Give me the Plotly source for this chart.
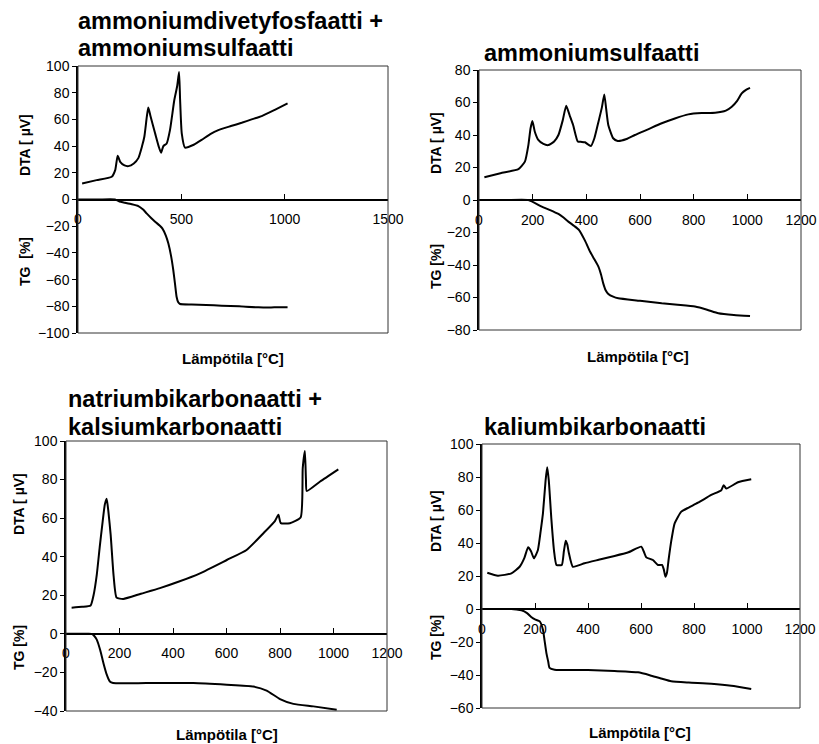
import plotly.graph_objects as go

W, H = 819, 744

# ---------------- data ----------------
titles = [
    ["ammoniumdivetyfosfaatti +", "ammoniumsulfaatti"],
    ["ammoniumsulfaatti"],
    ["natriumbikarbonaatti +", "kalsiumkarbonaatti"],
    ["kaliumbikarbonaatti"],
]
dta_title = "DTA [ \u00b5V]"
tg_titles = ["TG  [%]", "TG [%]", "TG [%]", "TG [%]"]
x_title = "Lämpötila [°C]"

# panel 1: ammoniumdivetyfosfaatti + ammoniumsulfaatti
t1_dta = [20, 90, 163, 180, 192, 205, 225, 244, 270, 292, 310, 321, 333, 340, 350, 373, 390, 402, 413, 429, 445, 466, 480, 489, 494, 502, 518, 560, 598, 640, 679, 740, 792, 840, 889, 950, 1014]
v1_dta = [12, 14.5, 17, 22, 32.8, 28, 25.5, 25, 27, 31, 40, 47, 62, 69, 63, 49.6, 40, 35, 40, 42, 52, 74.5, 85, 95.5, 75, 49.6, 38.8, 41, 44.6, 49, 52, 55, 57.5, 60, 62.5, 67, 72]
t1_tg = [0, 100, 179, 200, 227, 260, 292, 315, 332, 355, 373, 395, 408, 425, 437, 450, 461, 470, 477, 485, 494, 550, 620, 695, 780, 873, 950, 1014]
v1_tg = [0, 0, 0, -1.5, -2.4, -3.5, -4.9, -7.5, -10.4, -14, -16.6, -19.5, -21.6, -27, -32.8, -42, -52.8, -64, -72.8, -77, -78.3, -78.6, -79, -79.5, -80, -80.8, -80.8, -80.8]
x1_ticks = [0, 500, 1000, 1500]

# panel 2: ammoniumsulfaatti
t2_dta = [20, 80, 147, 171, 184, 192, 199, 208, 221, 240, 258, 280, 296, 312, 325, 338, 351, 368, 380, 395, 417, 430, 445, 458, 467, 474, 482, 500, 517, 550, 581, 630, 681, 730, 780, 830, 880, 920, 942, 962, 979, 995, 1010]
v2_dta = [14, 16.5, 19, 23.6, 33.8, 44, 48.6, 42, 37, 34.5, 33.8, 36, 40, 49, 58, 52, 46, 36, 35.8, 35.5, 33.2, 38, 48, 57, 65, 56, 46, 38, 36.3, 37.5, 40, 43.5, 47.2, 50.2, 52.7, 53.5, 53.7, 55, 57.4, 61, 65.6, 67.8, 69]
t2_tg = [0, 100, 184, 234, 265, 296, 315, 333, 355, 373, 395, 414, 430, 445, 455, 463, 472, 482, 500, 519, 600, 681, 740, 805, 850, 892, 950, 1010]
v2_tg = [0, 0, 0, -4.1, -6.2, -8.6, -10.8, -13.3, -16, -18.5, -25, -31.8, -36.5, -41, -46, -51.3, -55.5, -57.8, -59.5, -60.5, -62, -63.6, -64.5, -65.6, -67.5, -69.7, -70.8, -71.4]
x2_ticks = [0, 200, 400, 600, 800, 1000, 1200]

# panel 3: natriumbikarbonaatti + kalsiumkarbonaatti
t3_dta = [21, 60, 92, 103, 115, 126, 137, 145, 152, 158, 167, 178, 189, 214, 280, 351, 420, 501, 601, 675, 738, 781, 794, 803, 837, 877, 885, 893, 897, 900, 950, 1018]
v3_dta = [13.6, 14, 14.7, 20, 30.6, 45, 58.2, 67, 70, 64, 51.3, 30, 18.8, 18.1, 20.8, 23.7, 27, 31.4, 38.3, 43.5, 52.2, 58.5, 61.7, 57.4, 57.4, 60.3, 85.9, 94.8, 80, 74.1, 79, 85.3]
t3_tg = [0, 60, 96, 105, 115, 128, 140, 152, 164, 176, 300, 476, 601, 700, 750, 800, 850, 925, 1012]
v3_tg = [0, 0, 0, -1, -3, -8.5, -15.2, -21, -24.7, -25.5, -25.5, -25.5, -26.4, -27.3, -29.4, -33.8, -36.3, -37.6, -39.3]
x3_ticks = [0, 200, 400, 600, 800, 1000, 1200]

# panel 4: kaliumbikarbonaatti
t4_dta = [20, 60, 111, 142, 160, 174, 185, 196, 211, 222, 230, 240, 246, 252, 262, 272, 281, 301, 309, 316, 322, 328, 343, 387, 440, 488, 550, 601, 610, 620, 645, 664, 679, 686, 692, 698, 704, 715, 727, 752, 780, 815, 865, 903, 912, 922, 966, 1016]
v4_dta = [22, 20.2, 21.6, 25.6, 31, 37.4, 35, 30.7, 35.8, 48, 58, 78, 85.9, 78, 54, 35, 26.7, 26.7, 35, 41.4, 39, 33.8, 25.6, 27.7, 29.8, 31.7, 34.2, 37.8, 35, 31.3, 29.7, 26.7, 26.7, 24, 19.6, 22, 29.7, 42, 51.9, 59, 61.5, 64.4, 69.1, 72, 75, 73, 76.8, 78.6]
t4_tg = [0, 60, 111, 130, 149, 170, 187, 200, 218, 230, 236, 243, 250, 255, 274, 400, 500, 589, 639, 680, 714, 780, 865, 941, 1016]
v4_tg = [0, 0, 0, -0.3, -0.8, -2.5, -5, -6.3, -7.5, -12.5, -19, -26.7, -32, -35.7, -36.8, -37, -37.6, -38.4, -40.4, -42.3, -43.8, -44.6, -45.3, -46.5, -48.5]
x4_ticks = [0, 200, 400, 600, 800, 1000, 1200]

y_ranges = [(-100, 100), (-80, 80), (-40, 100), (-60, 100)]
x_ranges = [(0, 1500), (0, 1200), (0, 1200), (0, 1200)]

# ---------------- layout geometry (pixels) ----------------
boxes = [  # left, right, top, bottom
    (78, 388, 66, 333),
    (479, 801, 70, 330),
    (66, 387, 441, 711),
    (482, 800, 444, 708),
]
title_pos = [  # (x_left, [baselines])
    (77, [30, 57]),
    (483, [62]),
    (67, [408, 436]),
    (483, [436]),
]
ytitle_x = [25, 436, 19, 436]
dta_title_y = [145, 143, 504, 521]
tg_title_y = [262, 267, 648, 638]
xtitle_pos = [(233, 358), (638, 356), (227, 734), (640, 732)]


def fx(px):
    return px / W


def fy(py):
    return 1 - py / H


FONT = "Liberation Sans, Arial, sans-serif"

fig = go.Figure()
data = [
    (t1_dta, v1_dta, t1_tg, v1_tg, x1_ticks),
    (t2_dta, v2_dta, t2_tg, v2_tg, x2_ticks),
    (t3_dta, v3_dta, t3_tg, v3_tg, x3_ticks),
    (t4_dta, v4_dta, t4_tg, v4_tg, x4_ticks),
]
annotations = []
shapes = []
for i, (td, vd, tt, vt, xt) in enumerate(data):
    n = "" if i == 0 else str(i + 1)
    xa, ya = "x" + n, "y" + n
    for tx, vy in ((td, vd), (tt, vt)):
        fig.add_trace(go.Scatter(x=tx, y=vy, mode="lines", xaxis=xa, yaxis=ya,
                                 line=dict(color="black", width=2, shape="spline", smoothing=0.5),
                                 showlegend=False, hoverinfo="skip"))
    l, r, t, b = boxes[i]
    y0, y1 = y_ranges[i]
    ydom = [fy(b), fy(t)]
    pos = ydom[0] + (0 - y0) / (y1 - y0) * (ydom[1] - ydom[0])
    fig.update_layout(**{
        "xaxis" + n: dict(domain=[fx(l), fx(r)], range=list(x_ranges[i]), anchor="free",
                          position=pos, showline=True, linecolor="black", linewidth=1.5,
                          ticks="inside", ticklen=5, tickcolor="black", tickwidth=1,
                          tickvals=xt, ticktext=[str(v) for v in xt], showgrid=False,
                          zeroline=False, ticklabelstandoff=7, automargin=False,
                          tickfont=dict(family=FONT, size=14, color="black")),
        "yaxis" + n: dict(domain=ydom, range=[y0, y1], anchor=xa, showline=True,
                          linecolor="black", linewidth=1.5, ticks="outside", ticklen=4,
                          tickcolor="black", dtick=20, tick0=0, showgrid=False,
                          zeroline=False, automargin=False,
                          tickfont=dict(family=FONT, size=14, color="black")),
    })
    shapes.append(dict(type="rect", xref=xa + " domain", yref=ya + " domain",
                       x0=0, x1=1, y0=0, y1=1, line=dict(color="#333333", width=1)))
    # titles
    tx0, bases = title_pos[i]
    for line, base in zip(titles[i], bases):
        annotations.append(dict(text="<b>" + line + "</b>", x=fx(tx0), y=fy(base + 5),
                                xref="paper", yref="paper", xanchor="left", yanchor="bottom",
                                showarrow=False, borderpad=0,
                                font=dict(family=FONT, size=23.5, color="black")))
    # y titles
    annotations.append(dict(text="<b>" + dta_title + "</b>", x=fx(ytitle_x[i]),
                            y=fy(dta_title_y[i]), xref="paper", yref="paper",
                            textangle=-90, showarrow=False, xanchor="center", yanchor="middle",
                            font=dict(family=FONT, size=14, color="black")))
    annotations.append(dict(text="<b>" + tg_titles[i] + "</b>", x=fx(ytitle_x[i]),
                            y=fy(tg_title_y[i]), xref="paper", yref="paper",
                            textangle=-90, showarrow=False, xanchor="center", yanchor="middle",
                            font=dict(family=FONT, size=14, color="black")))
    xx, xy = xtitle_pos[i]
    annotations.append(dict(text="<b>" + x_title + "</b>", x=fx(xx), y=fy(xy),
                            xref="paper", yref="paper", showarrow=False,
                            xanchor="center", yanchor="middle",
                            font=dict(family=FONT, size=15, color="black")))

fig.update_layout(width=W, height=H, autosize=False, margin=dict(l=0, r=0, t=0, b=0, pad=0),
                  paper_bgcolor="white", plot_bgcolor="white",
                  annotations=annotations, shapes=shapes)
fig.write_html("out.html",
               post_script="document.body.style.margin='0';document.body.style.overflow='hidden';")
